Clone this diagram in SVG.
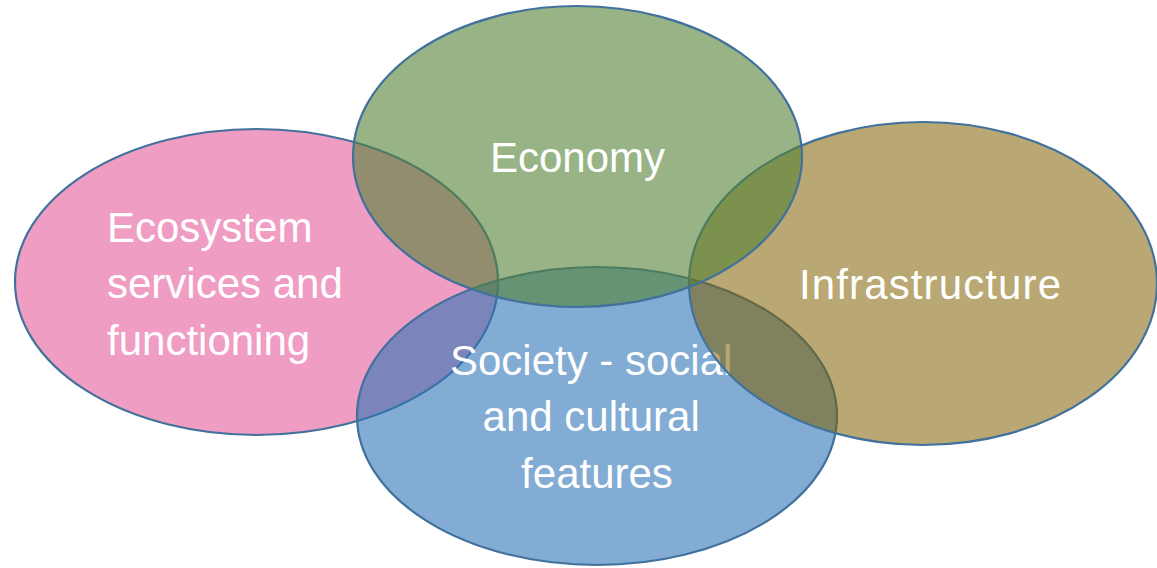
<svg xmlns="http://www.w3.org/2000/svg" width="1157" height="568" viewBox="0 0 1157 568">
  <style>
    .shape { stroke: #41719C; stroke-width: 2.2; }
    .label { font-family: "Liberation Sans", Arial, sans-serif; font-size: 42px; fill: #FFFFFF; }
    .mid { text-anchor: middle; }
  </style>
  <rect x="0" y="0" width="1157" height="568" fill="#FFFFFF"/>

  <!-- Ecosystem (bottom layer) -->
  <g id="ecosystem">
    <ellipse class="shape" cx="256.5" cy="282" rx="241.5" ry="153" fill="#EF9DC3"/>
    <text class="label" x="107">
      <tspan x="107" y="242">Ecosystem</tspan>
      <tspan x="107" y="298">services and</tspan>
      <tspan x="107" y="355">functioning</tspan>
    </text>
  </g>

  <!-- Society -->
  <g id="society">
    <ellipse class="shape" cx="597" cy="416" rx="240" ry="149" fill="#2E75B6" fill-opacity="0.6"/>
    <text class="label mid">
      <tspan x="597" y="375">Society - social</tspan>
      <tspan x="597" y="431">and cultural</tspan>
      <tspan x="597" y="488">features</tspan>
    </text>
  </g>

  <!-- Infrastructure -->
  <g id="infrastructure">
    <ellipse class="shape" cx="923" cy="283.5" rx="234" ry="161.5" fill="#7F6000" fill-opacity="0.55"/>
    <text class="label mid" x="930" y="299" textLength="262" lengthAdjust="spacing">Infrastructure</text>
  </g>

  <!-- Economy (top layer) -->
  <g id="economy">
    <ellipse class="shape" cx="577.5" cy="156.5" rx="224.5" ry="150.5" fill="#548235" fill-opacity="0.6"/>
    <text class="label mid" x="577.5" y="172">Economy</text>
  </g>

  <g id="connectors"/>
</svg>
